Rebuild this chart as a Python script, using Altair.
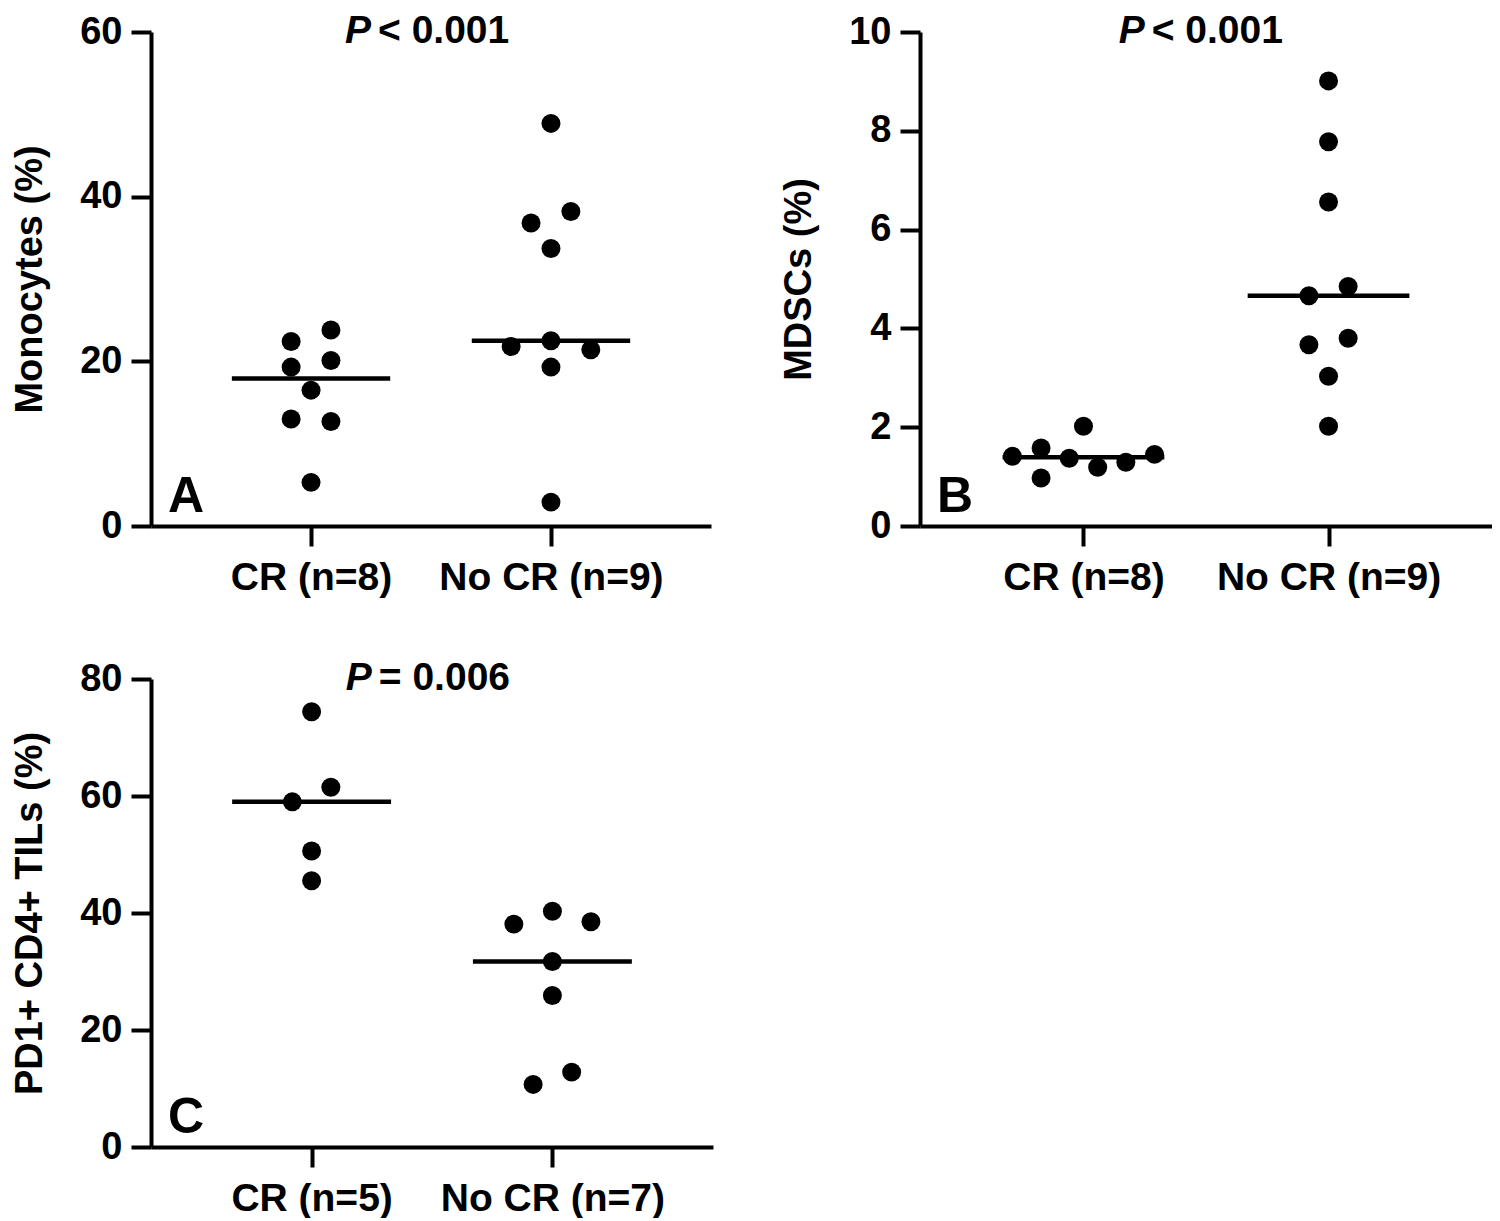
import altair as alt
import pandas as pd

FONT = "Liberation Sans"

# ---------- data ----------
# Panel A: Monocytes (%)
a_groups = ["CR (n=8)", "No CR (n=9)"]
a_cr = [22.4, 23.8, 19.3, 20.1, 16.5, 13.0, 12.7, 5.3]
a_cr_dx = [-0.083, 0.083, -0.083, 0.083, 0.0, -0.083, 0.083, 0.0]
a_nocr = [48.9, 38.2, 36.8, 33.7, 21.8, 22.5, 21.4, 19.3, 2.9]
a_nocr_dx = [0.0, 0.083, -0.083, 0.0, -0.166, 0.0, 0.166, 0.0, 0.0]

# Panel B: MDSCs (%)
b_groups = ["CR (n=8)", "No CR (n=9)"]
b_cr = [2.02, 1.41, 1.58, 0.97, 1.37, 1.19, 1.29, 1.45]
b_cr_dx = [0.0, -0.29, -0.173, -0.173, -0.058, 0.058, 0.173, 0.29]
b_nocr = [9.01, 7.78, 6.56, 4.85, 4.66, 3.80, 3.67, 3.03, 2.02]
b_nocr_dx = [0.0, 0.0, 0.0, 0.08, -0.08, 0.08, -0.08, 0.0, 0.0]

# Panel C: PD1+ CD4+ TILs (%)
c_groups = ["CR (n=5)", "No CR (n=7)"]
c_cr = [74.4, 61.5, 59.0, 50.6, 45.5]
c_cr_dx = [0.0, 0.08, -0.08, 0.0, 0.0]
c_nocr = [40.3, 38.1, 38.5, 31.7, 25.9, 12.8, 10.7]
c_nocr_dx = [0.0, -0.16, 0.16, 0.0, 0.0, 0.08, -0.08]

XMIN, XMAX = -0.667, 1.667


def panel(groups, vals, dxs, ytitle, ymax, ystep, ptxt, letter, width, height, tpad):
    rows = []
    for gi, (g, vs, ds) in enumerate(zip(groups, vals, dxs)):
        for v, d in zip(vs, ds):
            rows.append({"group": g, "gi": gi, "value": v, "dx": d})
    df = pd.DataFrame(rows)
    xscale = alt.Scale(domain=[XMIN, XMAX], nice=False, zero=False)
    yscale = alt.Scale(domain=[0, ymax], nice=False, zero=True)
    label_expr = "datum.value == 0 ? '%s' : '%s'" % (groups[0], groups[1])
    xaxis = alt.Axis(values=[0, 1], labelExpr=label_expr, title=None, grid=False,
                     labelPadding=12, labelFontSize=39, labelLimit=500)
    yaxis = alt.Axis(values=list(range(0, ymax + 1, ystep)), title=ytitle, grid=False,
                     labelPadding=9, titlePadding=tpad, labelFontSize=38)
    base = alt.Chart(df)
    pts = base.transform_calculate(xpos="datum.gi + datum.dx").mark_circle(
        size=360, color="black", opacity=1
    ).encode(
        x=alt.X("xpos:Q", scale=xscale, axis=xaxis),
        y=alt.Y("value:Q", scale=yscale, axis=yaxis),
    )
    med = base.transform_aggregate(
        med="median(value)", groupby=["gi"]
    ).transform_calculate(
        x1="datum.gi - 0.33", x2="datum.gi + 0.33"
    ).mark_rule(color="black", strokeWidth=4.5).encode(
        x=alt.X("x1:Q", scale=xscale, axis=xaxis),
        x2="x2:Q",
        y=alt.Y("med:Q", scale=yscale, axis=yaxis),
    )
    ann = pd.DataFrame([{"x": 0.25, "y": ymax, "p": "P", "rest": ptxt}])
    p1 = alt.Chart(ann).mark_text(
        align="right", baseline="middle", dy=-1, font=FONT, fontSize=39,
        fontWeight="bold", fontStyle="italic", color="black"
    ).encode(x=alt.X("x:Q", scale=xscale, axis=xaxis),
             y=alt.Y("y:Q", scale=yscale, axis=yaxis), text="p:N")
    p2 = alt.Chart(ann).mark_text(
        align="left", baseline="middle", dx=7, dy=-1, font=FONT, fontSize=39,
        fontWeight="bold", color="black"
    ).encode(x=alt.X("x:Q", scale=xscale, axis=xaxis),
             y=alt.Y("y:Q", scale=yscale, axis=yaxis), text="rest:N")
    let = pd.DataFrame([{"x": XMIN, "y": 0, "t": letter}])
    lt = alt.Chart(let).mark_text(
        align="left", baseline="alphabetic", dx=17, dy=-14, font=FONT, fontSize=50,
        fontWeight="bold", color="black"
    ).encode(x=alt.X("x:Q", scale=xscale, axis=xaxis),
             y=alt.Y("y:Q", scale=yscale, axis=yaxis), text="t:N")
    return alt.layer(pts, med, p1, p2, lt).properties(width=width, height=height)


A = panel(a_groups, [a_cr, a_nocr], [a_cr_dx, a_nocr_dx], "Monocytes (%)", 60, 20,
          "< 0.001", "A", 560, 494, 30)
B = panel(b_groups, [b_cr, b_nocr], [b_cr_dx, b_nocr_dx], "MDSCs (%)", 10, 2,
          "< 0.001", "B", 572, 494, 30)
C = panel(c_groups, [c_cr, c_nocr], [c_cr_dx, c_nocr_dx], "PD1+ CD4+ TILs (%)", 80, 20,
          "= 0.006", "C", 562, 468, 30)

chart = alt.vconcat(
    alt.hconcat(A, B, spacing=69),
    C,
    spacing=62,
).properties(
    padding={"left": 3, "top": 4, "right": 0, "bottom": 0}
).configure_view(stroke=None).configure_axis(
    domainColor="black", domainWidth=4, tickColor="black", tickWidth=4,
    tickSize=20, labelColor="black", labelFont=FONT, labelFontWeight="bold",
    titleColor="black", titleFont=FONT, titleFontWeight="bold", titleFontSize=38,
    grid=False,
)

chart.save("out.html", embed_options={"renderer": "svg", "actions": False})
